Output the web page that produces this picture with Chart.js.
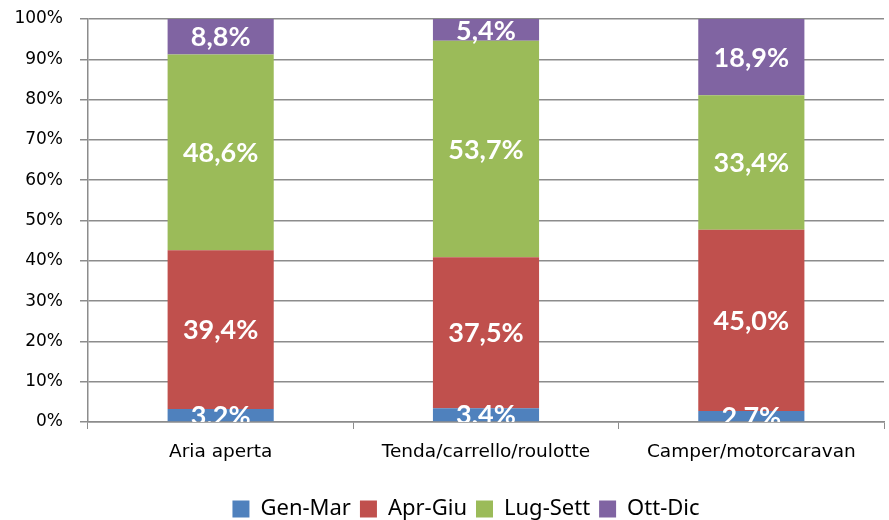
<!DOCTYPE html>
<html>
<head>
<meta charset="utf-8">
<script src="https://cdn.jsdelivr.net/npm/chart.js@4/dist/chart.umd.min.js"></script>
<style>
  html, body { margin: 0; padding: 0; background: #fff; }
  #wrap { width: 889px; height: 520px; }
</style>
</head>
<body>
<div id="wrap"><canvas id="grafico" width="889" height="520"></canvas></div>
<script>
// dati (% per trimestre)
const categorie = ['Aria aperta', 'Tenda/carrello/roulotte', 'Camper/motorcaravan'];
const serie = ['Gen-Mar', 'Apr-Giu', 'Lug-Sett', 'Ott-Dic'];
const genMar = [3.2, 3.4, 2.7];
const aprGiu = [39.4, 37.5, 45.0];
const lugSett = [48.6, 53.7, 33.4];
const ottDic = [8.8, 5.4, 18.9];
const yTicks = [0, 10, 20, 30, 40, 50, 60, 70, 80, 90, 100];

const colori = ['#4F81BD', '#C0504D', '#9BBB59', '#8064A2'];
const valori = [genMar, aprGiu, lugSett, ottDic];

// etichette bianche al centro di ogni segmento, tagliate all'area del grafico
const etichette = {
    id: 'etichette',
    afterDatasetsDraw(chart) {
        const ctx = chart.ctx;
        const area = chart.chartArea;
        ctx.save();
        ctx.beginPath();
        ctx.rect(area.left, area.top, area.right - area.left, area.bottom - area.top);
        ctx.clip();
        ctx.fillStyle = '#ffffff';
        ctx.font = 'bold 27px Lato';
        ctx.textAlign = 'center';
        ctx.textBaseline = 'middle';
        chart.data.datasets.forEach((ds, i) => {
            chart.getDatasetMeta(i).data.forEach((bar, j) => {
                const y = (bar.y + bar.base) / 2;
                ctx.fillText(ds.data[j].toFixed(1).replace('.', ',') + '%', bar.x, y + 1);
            });
        });
        ctx.restore();
    }
};

// sposta la legenda un po' a destra e in basso, come nell'originale
const spostaLegenda = {
    id: 'spostaLegenda',
    afterLayout(chart) {
        const l = chart.legend;
        if (!l) return;
        l.left += 22; l.right += 22;
        l.top += 10; l.bottom += 10;
    }
};

new Chart(document.getElementById('grafico').getContext('2d'), {
    type: 'bar',
    data: {
        labels: categorie,
        datasets: serie.map((nome, i) => ({
            label: nome,
            data: valori[i],
            backgroundColor: colori[i],
            borderWidth: 0,
            categoryPercentage: 1,
            barPercentage: 0.4
        }))
    },
    options: {
        responsive: false,
        animation: false,
        layout: { padding: { top: 4, right: 5, left: 4, bottom: 0 } },
        plugins: {
            tooltip: { enabled: false },
            legend: {
                position: 'bottom',
                labels: {
                    font: { family: 'Noto Sans', size: 22 },
                    color: '#000',
                    boxWidth: 17,
                    boxHeight: 17,
                    padding: 9
                }
            }
        },
        scales: {
            x: {
                stacked: true,
                offset: true,
                afterFit(axis) { axis.height = 57; },
                grid: {
                    display: true,
                    offset: true,
                    drawOnChartArea: false,
                    tickLength: 7,
                    color: '#8c8c8c'
                },
                border: { color: '#8c8c8c', width: 1.5 },
                ticks: {
                    font: { family: 'DejaVu Sans', size: 18.5 },
                    color: '#000',
                    padding: 12,
                    maxRotation: 0
                }
            },
            y: {
                stacked: true,
                min: 0,
                max: 100,
                afterFit(axis) {
                    axis.width = 84;
                    axis.paddingTop = 19;
                    axis.paddingBottom = 0;
                },
                afterBuildTicks(axis) {
                    axis.ticks = yTicks.map(v => ({ value: v }));
                },
                grid: {
                    color: '#8c8c8c',
                    lineWidth: 1.5,
                    tickLength: 8
                },
                border: { color: '#8c8c8c', width: 1.5 },
                ticks: {
                    font: { family: 'DejaVu Sans', size: 17 },
                    color: '#000',
                    padding: 17,
                    callback: v => v + '%'
                }
            }
        }
    },
    plugins: [etichette, spostaLegenda]
});
</script>
</body>
</html>
